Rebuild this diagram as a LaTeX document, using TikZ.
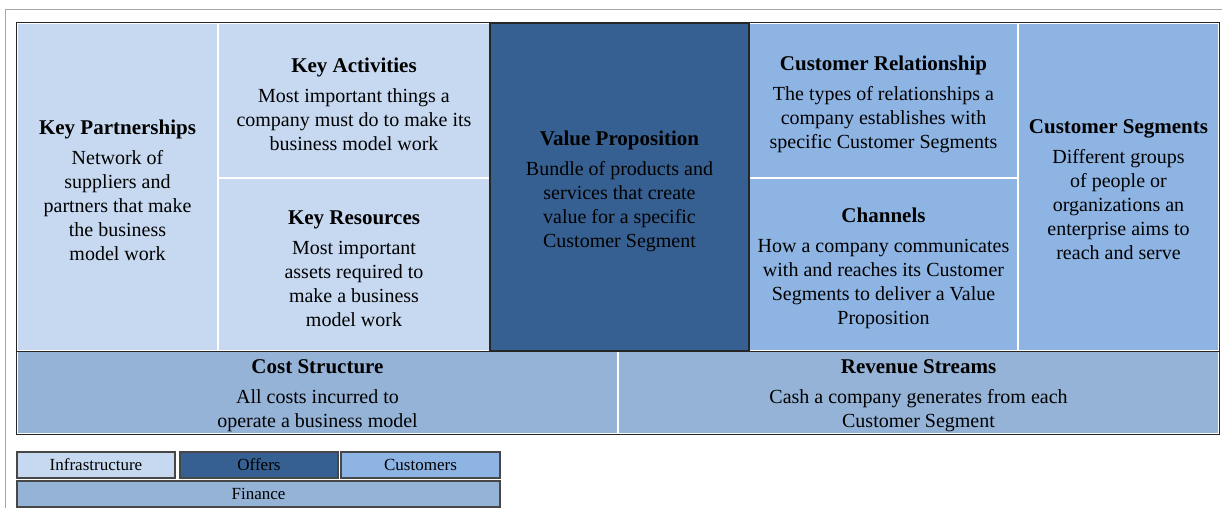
\documentclass[tikz,border=0pt]{standalone}
\usepackage{fontspec}
\IfFontExistsTF{LiberationSerif-Regular.ttf}
  {\setmainfont{LiberationSerif-Regular.ttf}[BoldFont=LiberationSerif-Bold.ttf]}
  {\setmainfont{Liberation Serif}}
\definecolor{infra}{HTML}{C6D9F1}
\definecolor{offer}{HTML}{376092}
\definecolor{cust}{HTML}{8EB4E3}
\definecolor{fin}{HTML}{95B3D7}
\definecolor{framegray}{HTML}{A6A6A6}
\definecolor{edgedark}{HTML}{262626}
\newcommand{\celltitle}[1]{{\fontsize{21}{24}\selectfont\bfseries #1}\\[6pt]}
\tikzset{
  cell/.style={rectangle, draw=white, line width=1.3pt, inner sep=0pt},
  celltext/.style={inner sep=0pt, align=center, yshift=-3pt,
    font=\rmfamily\fontsize{20}{24}\selectfont, text=black},
  legendbox/.style={rectangle, draw=edgedark!85, line width=1.3pt, inner sep=0pt,
    align=center, font=\rmfamily\fontsize{17}{18}\selectfont, text=black,
    minimum height=26pt},
  gridedge/.style={draw=edgedark, line width=1.4pt},
  framestyle/.style={draw=framegray, line width=1pt}
}
\begin{document}
\begin{tikzpicture}[x=1pt,y=-1pt]
\useasboundingbox (0,0) rectangle (1222,508);
% outer frame
\coordinate (f1) at (5,508);
\coordinate (f2) at (5,10);
\coordinate (f3) at (1222,10);
\draw[framestyle] (f1) -- (f2) -- (f3);

% cells
\node[cell, fill=infra, minimum width=201pt, minimum height=328pt] (kp) at (117.5,187) {};
\node[cell, fill=infra, minimum width=272pt, minimum height=155pt] (ka) at (354,100.5) {};
\node[cell, fill=infra, minimum width=272pt, minimum height=173pt] (kr) at (354,264.5) {};
\node[cell, fill=cust, minimum width=269pt, minimum height=155pt] (cr) at (883.5,100.5) {};
\node[cell, fill=cust, minimum width=269pt, minimum height=173pt] (ch) at (883.5,264.5) {};
\node[cell, fill=cust, minimum width=201pt, minimum height=328pt] (cs) at (1118.5,187) {};
\node[cell, fill=fin, minimum width=601pt, minimum height=83pt] (cost) at (317.5,392.5) {};
\node[cell, fill=fin, minimum width=601pt, minimum height=83pt] (rev) at (918.5,392.5) {};
\node[cell, fill=offer, draw=edgedark, minimum width=259pt, minimum height=328pt] (vp) at (619.5,187) {};

% grid edges
\draw[gridedge] (kp.south west) -- (cs.south east);
\draw[gridedge] (kp.north west) rectangle (rev.south east);

% cell texts
\node[celltext] (kpt) at (kp.center)
  {\celltitle{Key Partnerships}Network of\\suppliers and\\partners that make\\the business\\model work};
\node[celltext, yshift=-1pt] (kat) at (ka.center)
  {\celltitle{Key Activities}Most important things a\\company must do to make its\\business model work};
\node[celltext, yshift=-1pt] (krt) at (kr.center)
  {\celltitle{Key Resources}Most important\\assets required to\\make a business\\model work};
\node[celltext, yshift=-1pt] (vpt) at (vp.center)
  {\celltitle{Value Proposition}Bundle of products and\\services that create\\value for a specific\\Customer Segment};
\node[celltext, yshift=-1pt] (crt) at (cr.center)
  {\celltitle{Customer Relationship}The types of relationships a\\company establishes with\\specific Customer Segments};
\node[celltext, yshift=-1pt] (cht) at (ch.center)
  {\celltitle{Channels}How a company communicates\\with and reaches its Customer\\Segments to deliver a Value\\Proposition};
\node[celltext] (cst) at (cs.center)
  {\celltitle{Customer Segments}Different groups\\of people or\\organizations an\\enterprise aims to\\reach and serve};
\node[celltext] (costt) at (cost.center)
  {\celltitle{Cost Structure}All costs incurred to\\operate a business model};
\node[celltext] (revt) at (rev.center)
  {\celltitle{Revenue Streams}Cash a company generates from each\\Customer Segment};

% legend
\node[legendbox, fill=infra, minimum width=158pt] (lg1) at (96,465) {Infrastructure};
\node[legendbox, fill=offer, minimum width=158pt] (lg2) at (259,465) {Offers};
\node[legendbox, fill=cust, minimum width=159pt] (lg3) at (420.5,465) {Customers};
\node[legendbox, fill=fin, minimum width=483pt] (lg4) at (258.5,494) {Finance};
\end{tikzpicture}
\end{document}
